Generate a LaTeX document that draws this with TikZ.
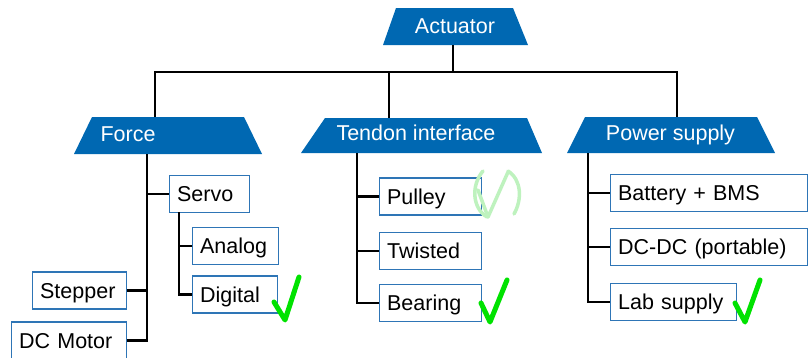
\documentclass[tikz,border=0pt]{standalone}
\usepackage{fontspec}
\setmainfont{Liberation Sans}
\definecolor{headblue}{RGB}{0,104,178}
\definecolor{boxblue}{RGB}{46,117,182}
\definecolor{tickgreen}{RGB}{0,226,0}
\definecolor{palegreen}{RGB}{190,242,190}
\tikzset{
  link/.style={line width=2.8pt, black, line join=miter},
  head/.style={fill=headblue, draw=none},
  headtext/.style={text=white, font=\fontsize{21.5}{25}\selectfont, inner sep=0pt, anchor=base},
  leaf/.style={draw=boxblue, line width=1.3pt, fill=white, anchor=west,
    minimum height=37pt, text width=#1, inner xsep=7.5pt, inner ysep=0pt,
    text height=15.4pt, text depth=0pt, align=left,
    font=\fontsize{21.5}{25}\selectfont},
  tick/.style={tickgreen, line width=5pt, line cap=round, line join=round},
  faint/.style={palegreen, line width=3.5pt, line cap=round, line join=round},
}
\begin{document}
\begin{tikzpicture}[x=1pt,y=-1pt]
\useasboundingbox (0,0) rectangle (808,357);

% header trapezoids
\fill[head] (396,8) -- (513,8) -- (528,45) -- (383,45) -- cycle;
\fill[head] (92,117) -- (244,117) -- (262,154) -- (74,154) -- cycle;
\fill[head] (325,118) -- (527,118) -- (542,153) -- (301,153) -- cycle;
\fill[head] (585,117) -- (757,117) -- (775,153) -- (567,153) -- cycle;
\node[headtext] (actuator) at (455,33.5) {Actuator};
\node[headtext] (force) at (128,141) {Force};
\node[headtext] (tendon) at (416,140) {Tendon interface};
\node[headtext] (power) at (670.5,140) {Power supply};

% attachment points on the headers
\coordinate (actbase) at (453,45);
\coordinate (barmid) at (453,72);
\coordinate (forcetop) at (155,117);
\coordinate (tendontop) at (389,118);
\coordinate (powertop) at (677,117);
\coordinate (forcebase) at (147,154);
\coordinate (tendonbase) at (357,153);
\coordinate (powerbase) at (588,153);

% leaf boxes
\node[leaf=65pt] (servo) at (169,194) {Servo};
\node[leaf=71pt] (analog) at (192,246) {Analog};
\node[leaf=70pt] (digital) at (192,294.5) {Digital};
\node[leaf=79pt] (stepper) at (32,290.5) {Stepper};
\node[leaf=100pt] (dcmotor) at (11,340.5) {DC Motor};
\coordinate (servobase) at (179,212);

\node[leaf=87pt] (pulley) at (379,196.5) {Pulley};
\node[leaf=87pt] (twisted) at (379,251) {Twisted};
\node[leaf=87pt] (bearing) at (379,303) {Bearing};

\node[leaf=182pt] (battery) at (610,193) {Battery + BMS};
\node[leaf=182pt] (dcdc) at (610,247) {DC-DC (portable)};
\node[leaf=111pt] (lab) at (610,302) {Lab supply};

% top level connectors
\draw[link] (actbase) -- (barmid);
\draw[link] (forcetop) -- (forcetop |- barmid) -- (powertop |- barmid) -- (powertop);
\draw[link] (barmid -| tendontop) -- (tendontop);

% Force branch
\draw[link] (forcebase) |- (dcmotor.east);
\draw[link] (forcebase) |- (servo.west);
\draw[link] (stepper.east) -- (stepper.east -| forcebase);
\draw[link] (servobase) |- (digital.west);
\draw[link] (servobase) |- (analog.west);

% Tendon interface branch
\draw[link] (tendonbase) |- (bearing.west);
\draw[link] (tendonbase) |- (pulley.west);
\draw[link] (tendonbase) |- (twisted.west);

% Power supply branch
\draw[link] (powerbase) |- (lab.west);
\draw[link] (powerbase) |- (battery.west);
\draw[link] (powerbase) |- (dcdc.west);

% check marks
\draw[tick] (274,302) -- (285,320) -- (299,277);
\draw[tick] (481,303) -- (490,322) -- (507,280);
\draw[tick] (735,303) -- (745,322) -- (760,280);
\draw[faint] (483,171) .. controls (471,185) and (472,208) .. (487,217);
\draw[faint] (478,190) -- (488,217) -- (508,172);
\draw[faint] (508,171) .. controls (522,180) and (522,200) .. (514,214);
\end{tikzpicture}
\end{document}
